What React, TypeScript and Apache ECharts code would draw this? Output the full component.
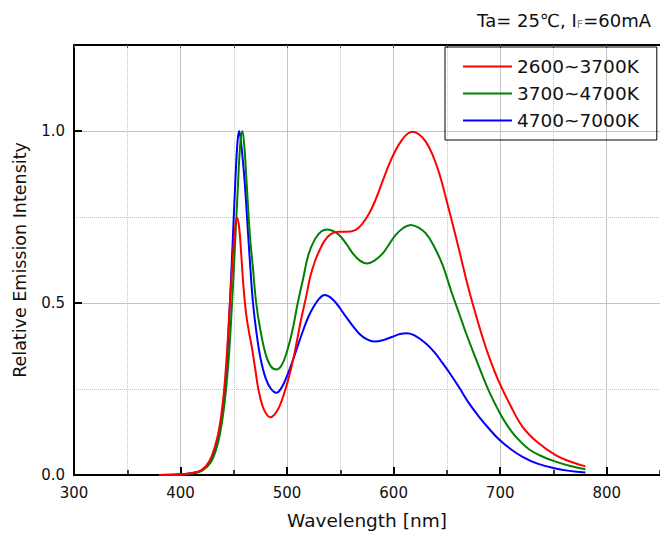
import React, { useEffect, useRef } from "react";
import * as echarts from "echarts";

const seriesNames = ["2600~3700K", "3700~4700K", "4700~7000K"];
const seriesColors = ["#ff0000", "#008000", "#0000ff"];

const redWl = [380, 400, 410, 420, 427, 432, 436, 440, 443, 446, 449, 451, 453, 455, 457, 459, 461.5, 464, 467, 470, 473, 477, 481, 484, 488, 493, 498, 503, 508, 513, 518, 522, 526, 530, 535, 541, 548, 556, 564, 570, 577, 583, 590, 596, 602, 608, 613, 618, 624, 630, 636, 643, 652, 661, 668, 674, 683, 690, 699, 710, 721, 735, 752, 765, 780];
const redVal = [0, 0.002, 0.005, 0.015, 0.04, 0.08, 0.13, 0.22, 0.33, 0.48, 0.63, 0.71, 0.748, 0.72, 0.64, 0.55, 0.47, 0.42, 0.37, 0.31, 0.25, 0.2, 0.175, 0.168, 0.175, 0.2, 0.245, 0.3, 0.37, 0.45, 0.52, 0.58, 0.62, 0.65, 0.68, 0.7, 0.707, 0.707, 0.712, 0.728, 0.76, 0.8, 0.857, 0.905, 0.945, 0.975, 0.992, 0.998, 0.99, 0.97, 0.935, 0.875, 0.77, 0.66, 0.57, 0.5, 0.405, 0.34, 0.27, 0.2, 0.14, 0.095, 0.058, 0.04, 0.025];

const greenWl = [380, 400, 410, 420, 428, 433, 437, 441, 445, 448, 451, 454, 456, 458, 460, 462, 465, 468, 471, 475, 480, 485, 490, 495, 500, 505, 510, 515, 520, 526, 532, 538, 544, 550, 556, 562, 568, 575, 582, 590, 596, 602, 609, 616, 623, 630, 637, 646, 654, 662, 668, 674, 682, 690, 698, 705, 715, 727, 740, 752, 765, 780];
const greenVal = [0, 0.001, 0.004, 0.012, 0.035, 0.07, 0.12, 0.2, 0.33, 0.48, 0.66, 0.85, 0.96, 1.0, 0.95, 0.85, 0.7, 0.6, 0.5, 0.42, 0.35, 0.315, 0.307, 0.32, 0.36, 0.42, 0.5, 0.57, 0.64, 0.685, 0.708, 0.714, 0.708, 0.694, 0.67, 0.643, 0.624, 0.615, 0.623, 0.645, 0.672, 0.698, 0.718, 0.727, 0.72, 0.703, 0.67, 0.61, 0.535, 0.465, 0.412, 0.363, 0.3, 0.24, 0.19, 0.152, 0.11, 0.075, 0.053, 0.039, 0.027, 0.017];

const blueWl = [380, 400, 410, 420, 428, 433, 437, 440, 443, 446, 449, 451.5, 453.5, 455, 457, 460, 463, 466, 468, 471, 475, 480, 485, 490, 495, 500, 505, 510, 515, 520, 525, 530, 535, 540, 546, 553, 560, 568, 575, 582, 590, 599, 606, 613, 620, 630, 638, 646, 654, 662, 670, 680, 690, 699, 710, 721, 735, 752, 765, 780];
const blueVal = [0, 0.002, 0.005, 0.014, 0.04, 0.075, 0.13, 0.2, 0.3, 0.48, 0.68, 0.86, 0.97, 1.0, 0.96, 0.86, 0.72, 0.58, 0.5, 0.42, 0.34, 0.28, 0.25, 0.239, 0.255, 0.288, 0.33, 0.375, 0.42, 0.46, 0.49, 0.512, 0.523, 0.518, 0.5, 0.47, 0.44, 0.41, 0.394, 0.388, 0.392, 0.402, 0.41, 0.412, 0.405, 0.383, 0.358, 0.325, 0.29, 0.252, 0.212, 0.17, 0.133, 0.103, 0.075, 0.053, 0.033, 0.019, 0.012, 0.007];

const xMin = 300;
const xMax = 850;
const yMin = 0;
const yMax = 1.25;

const FONT = "'DejaVu Sans', 'Liberation Sans', Arial, sans-serif";

function pairs(xs: number[], ys: number[]) {
  return xs.map((x, i) => [x, ys[i]]);
}

export default function App() {
  const ref = useRef<HTMLDivElement>(null);
  useEffect(() => {
    if (!ref.current) return;
    const chart = echarts.init(ref.current, undefined, { renderer: "svg" });
    const data = [pairs(redWl, redVal), pairs(greenWl, greenVal), pairs(blueWl, blueVal)];
    const gridColor = "#c4c4c4";
    chart.setOption({
      animation: false,
      backgroundColor: "#ffffff",
      title: {
        right: 4,
        top: 5,
        text: "{a|Ta= 25℃, I}{s|F}{a|=60mA}",
        textStyle: {
          fontWeight: "normal",
          rich: {
            a: { fontFamily: FONT, fontSize: 18, fontWeight: "normal", color: "#111" },
            s: { fontFamily: FONT, fontSize: 11, fontWeight: "normal", color: "#888", verticalAlign: "bottom", padding: [9, 0, 0, 0] },
          },
        },
      },
      legend: {
        left: 445,
        top: 47,
        orient: "vertical",
        data: seriesNames,
        borderColor: "#000",
        borderWidth: 1,
        borderRadius: 0,
        padding: [10, 18, 10, 18],
        icon: "rect",
        itemWidth: 49,
        itemHeight: 2,
        itemGap: 8,
        textStyle: { fontFamily: FONT, fontSize: 18.5, color: "#111" },
      },
      grid: { left: 74, top: 45, right: 0, bottom: 69, containLabel: false },
      xAxis: [
        {
          type: "value",
          position: "bottom",
          min: xMin,
          max: xMax,
          interval: 100,
          name: "Wavelength [nm]",
          nameLocation: "middle",
          nameGap: 36,
          nameTextStyle: { fontFamily: FONT, fontSize: 18.5, color: "#111" },
          axisLine: { show: true, onZero: false, lineStyle: { color: "#000", width: 2 } },
          axisTick: { show: true, inside: true, length: 8, lineStyle: { color: "#000", width: 2 } },
          axisLabel: { fontFamily: FONT, fontSize: 15, color: "#111", margin: 10, showMaxLabel: false },
          splitLine: { show: true, lineStyle: { color: gridColor, width: 1, type: "solid" } },
        },
        {
          type: "value",
          position: "bottom",
          min: xMin,
          max: xMax,
          interval: 50,
          axisLine: { show: false },
          axisTick: { show: true, inside: true, length: 5, lineStyle: { color: "#000", width: 1.5 } },
          axisLabel: { show: false },
          splitLine: { show: true, lineStyle: { color: gridColor, width: 1, type: "dotted" } },
        },
        {
          type: "value",
          position: "top",
          min: xMin,
          max: xMax,
          interval: 50,
          axisLine: { show: true, onZero: false, lineStyle: { color: "#000", width: 2 } },
          axisTick: { show: true, inside: true, length: 3, lineStyle: { color: "#555", width: 1 } },
          axisLabel: { show: false },
          splitLine: { show: false },
        },
      ],
      yAxis: [
        {
          type: "value",
          position: "left",
          min: yMin,
          max: yMax,
          interval: 0.5,
          name: "Relative Emission Intensity",
          nameLocation: "middle",
          nameGap: 45,
          nameTextStyle: { fontFamily: FONT, fontSize: 17.5, color: "#111" },
          axisLine: { show: true, onZero: false, lineStyle: { color: "#000", width: 2 } },
          axisTick: { show: true, inside: true, length: 8, lineStyle: { color: "#000", width: 2 } },
          axisLabel: {
            fontFamily: FONT,
            fontSize: 15,
            color: "#111",
            margin: 9,
            showMaxLabel: false,
            formatter: (v: number) => v.toFixed(1),
          },
          splitLine: { show: true, lineStyle: { color: gridColor, width: 1, type: "solid" } },
        },
        {
          type: "value",
          position: "left",
          min: yMin,
          max: yMax,
          interval: 0.25,
          axisLine: { show: false },
          axisTick: { show: false },
          axisLabel: { show: false },
          splitLine: { show: true, lineStyle: { color: gridColor, width: 1, type: "dotted" } },
        },
      ],
      series: seriesNames.map((name, i) => ({
        name,
        type: "line",
        xAxisIndex: 0,
        yAxisIndex: 0,
        data: data[i],
        showSymbol: false,
        symbol: "none",
        smooth: 0.4,
        z: 10 - i,
        lineStyle: { color: seriesColors[i], width: 2 },
        itemStyle: { color: seriesColors[i] },
      })),
    });
    return () => chart.dispose();
  }, []);
  return (
    <div
      ref={ref}
      style={{ position: "fixed", left: 0, top: 0, width: 660, height: 544, background: "#fff" }}
    />
  );
}
